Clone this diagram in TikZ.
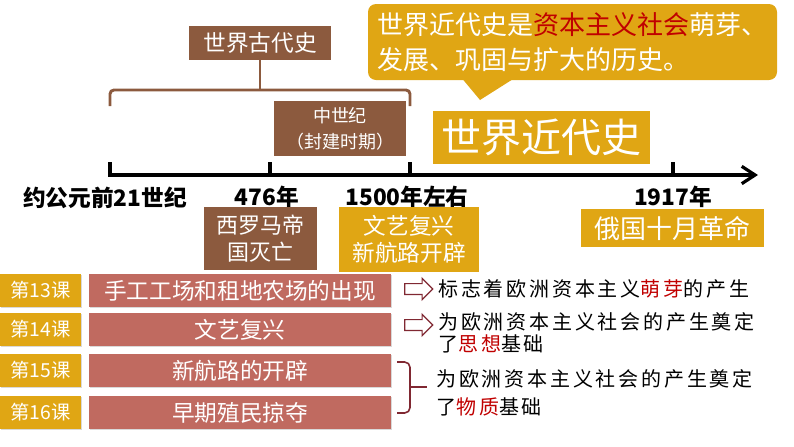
\documentclass[tikz,border=0pt]{standalone}
\usepackage{fontspec}
\setmainfont{Noto Sans CJK SC}
\newfontfamily\spaced[LetterSpace=14]{Noto Sans CJK SC}
\usetikzlibrary{arrows.meta,shapes.arrows,shadows,calc}
\definecolor{gold}{RGB}{224,166,20}
\definecolor{umber}{RGB}{140,90,62}
\definecolor{rose}{RGB}{192,106,96}
\definecolor{deepred}{RGB}{192,0,0}
\definecolor{wine}{RGB}{128,40,50}

\begin{document}
\begin{tikzpicture}[x=0.75pt,y=-0.75pt]
\tikzstyle{every node} = [inner sep=0pt]
\tikzstyle{umberbox} = [fill=umber, text=white, align=center]
\tikzstyle{goldbox} = [fill=gold, text=white, align=center]
\tikzstyle{lesson} = [fill=gold, text=white, minimum width=60.75pt, minimum height=24.75pt, font=\fontsize{14.5}{16}\selectfont, drop shadow={opacity=0.3, shadow xshift=1pt, shadow yshift=-1pt}]
\tikzstyle{topic} = [fill=rose, text=white, minimum width=226.5pt, minimum height=24.75pt, font=\fontsize{17}{20}\selectfont, drop shadow={opacity=0.3, shadow xshift=1pt, shadow yshift=-1pt}]
\tikzstyle{year} = [font=\bfseries\fontsize{17}{20}\selectfont]
\tikzstyle{note} = [anchor=west, align=left]
\tikzstyle{hollow} = [single arrow, draw=wine, fill=white, line width=0.9pt, inner xsep=0pt, inner ysep=3.6pt, single arrow head extend=3.9pt, minimum height=21pt]
\useasboundingbox (0,0) rectangle (794,447);

% callout at the top
\node[goldbox, rounded corners=6pt, minimum width=306.75pt, minimum height=57pt, align=left, font=\fontsize{19.5}{26}\selectfont] (claim) at (572.5,42) {世界近代史是\textcolor{deepred}{资本主义社会}萌芽、\\发展、巩固与扩大的历史。};
\coordinate (tip) at (480,100);
\fill[gold] ($(claim.south west)+(95,-1)$) -- (tip) -- ($(claim.south west)+(145,-1)$) -- cycle;

% ancient history and its brace
\node[umberbox, minimum width=106.5pt, minimum height=25.5pt, font=\fontsize{17}{20}\selectfont] (ancient) at (260,43) {世界古代史};
\coordinate (bracemid) at (260,90);
\draw[umber, line width=2.2pt, rounded corners=3pt] (110,106) -- (110,90) -- (410,90) -- (410,106);
\draw[umber, line width=2.2pt] (ancient.south) -- (bracemid);
\node[umberbox, minimum width=99pt, minimum height=41.25pt, font=\fontsize{13.5}{19.5}\selectfont] (medieval) at (340,128.5) {中世纪\\（封建时期）};
\node[goldbox, minimum width=162.75pt, minimum height=39.75pt, font=\fontsize{30}{36}\selectfont] (modern) at (541.5,137.5) {世界近代史};

% time axis
\coordinate (t0) at (110,175);
\coordinate (t1) at (270,175);
\coordinate (t2) at (410,175);
\coordinate (t3) at (673,175);
\coordinate (axisend) at (758,175);
\draw[line width=3pt, -{Straight Barb[length=10pt, width=13pt, line width=2.4pt]}] ($(t0)+(0,-13)$) -- (t0) -- (axisend);
\foreach \t in {t1,t2,t3}
  \draw[line width=3pt] (\t) -- ++(0,-13);

\node[year] (bc) at (105,198) {约公元前21世纪};
\node[year] (fall) at (267,197) {476年};
\node[year] (rebirth) at (407,197) {1500年左右};
\node[year] (october) at (673,197) {1917年};

\node[umberbox, minimum width=84.75pt, minimum height=47.25pt, font=\fontsize{16.5}{20}\selectfont] (rome) at (260.5,238.5) {西罗马帝\\国灭亡};
\node[goldbox, minimum width=105pt, minimum height=48.75pt, font=\fontsize{17}{20}\selectfont] (voyage) at (409,239.5) {文艺复兴\\新航路开辟};
\node[goldbox, minimum width=137.25pt, minimum height=28.5pt, font=\fontsize{19.5}{22}\selectfont] (revolution) at (672.5,228) {俄国十月革命};

% lessons
\foreach \n/\y/\t in {13/290.5/手工工场和租地农场的出现, 14/329.5/文艺复兴, 15/370.5/新航路的开辟, 16/412.5/早期殖民掠夺} {
  \node[lesson] (l\n) at (40.5,\y) {第{\n}课};
  \node[topic] (c\n) at (240,\y) {\t};
}

% meanings
\node[hollow] (a13) at (416,289) {};
\node[note, font=\spaced\fontsize{15}{16.3}\selectfont] (n13) at (438,289) {标志着欧洲资本主义\textcolor{deepred}{萌芽}的产生};
\node[hollow] (a14) at (416,325) {};
\node[note, font=\spaced\fontsize{15}{16.3}\selectfont] (n14) at (438,332.5) {为欧洲资本主义社会的产生奠定\\了\textcolor{deepred}{思想}基础};
\coordinate (bt) at (397,362);
\coordinate (bb) at (397,413);
\coordinate (bm) at (410,387);
\draw[wine, line width=1.2pt, rounded corners=4pt] (bt) -- (410,362) -- (410,413) -- (bb);
\draw[wine, line width=1.2pt] (bm) -- ++(17,0);
\node[note, font=\spaced\fontsize{15}{21}\selectfont] (n1516) at (436,393) {为欧洲资本主义社会的产生奠定\\了\textcolor{deepred}{物质}基础};
\end{tikzpicture}
\end{document}
